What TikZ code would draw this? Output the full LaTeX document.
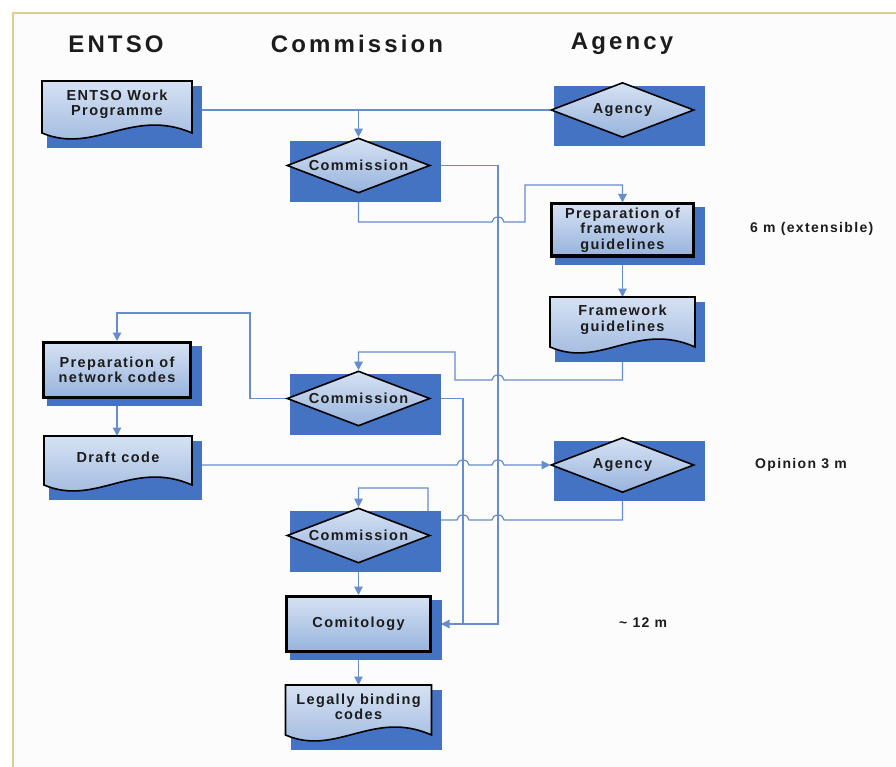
\documentclass[tikz,border=0pt]{standalone}
\usepackage{fontspec}
\setmainfont{Liberation Sans}
\newfontfamily\hdrfont{Liberation Sans}[LetterSpace=13]
\newfontfamily\boxfont{Liberation Sans}[LetterSpace=9.5]
\newfontfamily\notefont{Liberation Sans}[LetterSpace=9.5]
\usetikzlibrary{shapes.geometric,arrows.meta,calc}

\definecolor{shadowblue}{HTML}{4573C4}
\definecolor{linkblue}{HTML}{678DCB}
\definecolor{fillhi}{HTML}{D6E2F3}
\definecolor{filllo}{HTML}{97B3DD}
\definecolor{framegold}{HTML}{E0CB93}
\definecolor{paper}{HTML}{FCFCFC}
\definecolor{ink}{HTML}{1C1C1C}

\pgfdeclarelayer{paperlayer}
\pgfdeclarelayer{wires}
\pgfdeclarelayer{shades}
\pgfsetlayers{paperlayer,wires,shades,main}

\tikzset{
  hdr/.style={font=\hdrfont\bfseries\fontsize{24}{28}\selectfont, text=ink},
  txt/.style={font=\boxfont\bfseries\fontsize{14.5}{15.5}\selectfont, text=ink, align=center, inner sep=0pt},
  note/.style={font=\notefont\bfseries\fontsize{14}{16}\selectfont, text=ink, inner sep=0pt},
  conn/.style={draw=linkblue, line width=1.2pt},
  arr/.style={-{Triangle[length=8.5pt,width=8.5pt]}},
  dia/.style={diamond, draw=black, line width=1.6pt, aspect=2.6,
    minimum width=143pt, minimum height=55pt, inner sep=0pt,
    top color=fillhi, bottom color=filllo, txt},
  stepbox/.style={rectangle, draw=black, line width=3pt, inner sep=0pt,
    top color=fillhi, bottom color=filllo, txt},
  docbox/.style={rectangle, inner sep=0pt, outer sep=0pt},
  docline/.style={draw=black, line width=1.6pt, top color=fillhi, bottom color=filllo},
}

% document symbol with a wavy lower edge, drawn over an invisible frame node
\newcommand\wavydoc[1]{%
  \draw[docline] (#1.north west) -- (#1.north east) -- (#1.south east)
    .. controls ($(#1.south west)!0.6!(#1.south east)+(0,-26)$)
    and ($(#1.south west)!0.35!(#1.south east)+(0,22)$) .. (#1.south west) -- cycle;}
% blue block behind a symbol
\newcommand\backshade[3]{%
  \fill[shadowblue] ($(#1.west |- #1.north)+(#2,#2)$) rectangle ($(#1.east |- #1.south)+(10,#3)$);}

\begin{document}
\begin{tikzpicture}[x=1pt,y=-1pt]
\useasboundingbox (0,0) rectangle (896,767);

\begin{pgfonlayer}{paperlayer}
  \fill[white] (0,0) rectangle (896,767);
  \fill[paper] (13,13) rectangle (896,767);
  \draw[framegold, line width=2.5pt] (13,767) -- (13,13) -- (896,13);
\end{pgfonlayer}

% column headings
\node[hdr] (hE) at (116,44) {ENTSO};
\node[hdr] (hC) at (357,44) {Commission};
\node[hdr] (hA) at (622,44) {Agency};

% documents
\node[docbox, minimum width=150pt, minimum height=52pt] (wp) at (117,107) {};
\wavydoc{wp}
\node[txt] (wpt) at ($(wp.north)+(0,23.5)$) {ENTSO Work\\Programme};

\node[docbox, minimum width=145pt, minimum height=50pt] (fg) at (622.5,322) {};
\wavydoc{fg}
\node[txt] (fgt) at ($(fg.north)+(0,23)$) {Framework\\guidelines};

\node[docbox, minimum width=148pt, minimum height=49pt] (dc) at (118,460.5) {};
\wavydoc{dc}
\node[txt] (dct) at ($(dc.north)+(0,21)$) {Draft code};

\node[docbox, minimum width=146pt, minimum height=50pt] (lbc) at (358.5,710) {};
\wavydoc{lbc}
\node[txt] (lbct) at ($(lbc.north)+(0,22)$) {Legally binding\\codes};

% decisions
\node[dia] (ag1) at (622.5,110) {Agency};
\node[dia] (cm1) at (358.5,165.5) {Commission};
\node[dia] (cm2) at (358.5,398.5) {Commission};
\node[dia] (ag2) at (622.5,465) {Agency};
\node[dia] (cm3) at (358.5,535.5) {Commission};

% process steps
\node[stepbox, minimum width=142pt, minimum height=52pt] (pfw) at (622.5,230) {Preparation of\\framework\\guidelines};
\node[stepbox, minimum width=147pt, minimum height=55pt] (pnc) at (117,370) {Preparation of\\network codes};
\node[stepbox, minimum width=144pt, minimum height=55pt] (cmt) at (358.5,624) {Comitology};

% durations
\node[note, anchor=west] (d1) at (750,229) {6 m (extensible)};
\node[note, anchor=west] (d2) at (755,465) {Opinion 3 m};
\node[note, anchor=west] (d3) at (619,623) {\textasciitilde{} 12 m};

\begin{pgfonlayer}{shades}
  \backshade{wp}{5}{15}
  \backshade{fg}{5}{15}
  \backshade{dc}{5}{15}
  \backshade{lbc}{5}{15}
  \backshade{ag1}{4}{8}
  \backshade{cm1}{4}{8}
  \backshade{cm2}{4}{8}
  \backshade{ag2}{4}{8}
  \backshade{cm3}{4}{8}
  \backshade{pfw}{5}{7}
  \backshade{pnc}{5}{7}
  \backshade{cmt}{5}{7}
\end{pgfonlayer}

\begin{pgfonlayer}{wires}
  % work programme to agency and commission
  \draw[conn] (wp.east |- ag1.west) -- (ag1.west);
  \draw[conn,arr] (cm1.north |- ag1.west) -- (cm1.north);
  % commission request for framework guidelines
  \draw[conn,arr] (cm1.south) -- (358.5,222) -- (492,222)
    arc[start angle=180,end angle=0,x radius=6pt,y radius=5pt]
    -- (525,222) -- (525,185) -- (pfw.north |- 0,185) -- (pfw.north);
  \draw[conn,arr] (pfw.south) -- (fg.north);
  % guidelines back to commission
  \draw[conn,arr] (fg.south) -- (622.5,380) -- (504,380)
    arc[start angle=0,end angle=180,x radius=6pt,y radius=5pt]
    -- (455,380) -- (455,352) -- (cm2.north |- 0,352) -- (cm2.north);
  % commission to network code preparation
  \draw[conn,arr] (cm2.west) -- (250,398.5) -- (250,313) -- (pnc.north |- 0,313) -- (pnc.north);
  \draw[conn,arr] (pnc.south) -- (pnc.south |- dc.north);
  % draft code to agency opinion
  \draw[conn,arr] (dc.east |- ag2.west) -- (457,465)
    arc[start angle=180,end angle=0,x radius=6pt,y radius=5pt]
    -- (492,465)
    arc[start angle=180,end angle=0,x radius=6pt,y radius=5pt]
    -- (ag2.west);
  % agency opinion to commission
  \draw[conn,arr] (ag2.south) -- (622.5,520) -- (504,520)
    arc[start angle=0,end angle=180,x radius=6pt,y radius=5pt]
    -- (469,520)
    arc[start angle=0,end angle=180,x radius=6pt,y radius=5pt]
    -- (428,520) -- (428,488) -- (cm3.north |- 0,488) -- (cm3.north);
  % commission decisions into comitology
  \draw[conn,arr] (cm1.east) -| (498,624) -- ($(cmt.east)+(9,0)$);
  \draw[conn] (cm2.east) -| (463,624);
  \draw[conn,arr] (cm3.south) -- (cmt.north);
  \draw[conn,arr] (cmt.south) -- (lbc.north);
\end{pgfonlayer}
\end{tikzpicture}
\end{document}
